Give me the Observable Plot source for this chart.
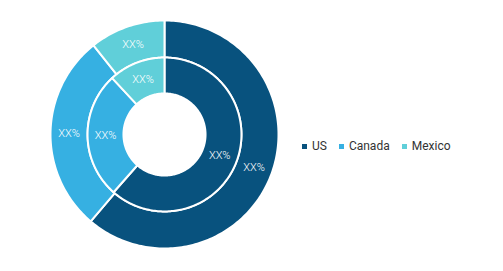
<!DOCTYPE html>
<html>
<head>
<meta charset="utf-8">
<script src="https://cdn.jsdelivr.net/npm/d3@7"></script>
<script src="https://cdn.jsdelivr.net/npm/@observablehq/plot@0.6"></script>
<style>
  html, body { margin: 0; padding: 0; background: #fff; }
  #wrap { position: relative; width: 503px; height: 271px; overflow: hidden; }
  #legend { position: absolute; left: 302px; top: 139px; display: flex; gap: 12px;
            font-family: Roboto, "Liberation Sans", sans-serif; font-size: 12px; color: #333; }
  #legend .it { display: flex; align-items: center; gap: 5px; }
  #legend .sw { width: 5px; height: 5px; display: inline-block; }
</style>
</head>
<body>
<div id="wrap"></div>
<script>
const countries = ["US", "Canada", "Mexico"];
const colors = ["#08527e", "#36b0e2", "#60cfd9"];
const outerShare = [61.2, 28.1, 10.7];
const innerShare = [61.5, 26.6, 11.9];
const outerLabels = ["XX%", "XX%", "XX%"];
const innerLabels = ["XX%", "XX%", "XX%"];

// ring radii relative to outer radius
const rings = [
  {name: "outer", r0: 0.675, r1: 1.0, shares: outerShare, labels: outerLabels},
  {name: "inner", r0: 0.36, r1: 0.675, shares: innerShare, labels: innerLabels}
];

const polys = [];
const texts = [];
for (const ring of rings) {
  const total = d3.sum(ring.shares);
  let acc = 0;
  ring.shares.forEach((v, i) => {
    const a0 = acc / total * 2 * Math.PI;
    acc += v;
    const a1 = acc / total * 2 * Math.PI;
    const id = ring.name + i;
    const n = Math.max(8, Math.ceil((a1 - a0) / 0.02));
    const pts = [];
    for (let k = 0; k <= n; k++) {
      const a = a0 + (a1 - a0) * k / n;
      pts.push([ring.r1 * Math.sin(a), ring.r1 * Math.cos(a)]);
    }
    for (let k = n; k >= 0; k--) {
      const a = a0 + (a1 - a0) * k / n;
      pts.push([ring.r0 * Math.sin(a), ring.r0 * Math.cos(a)]);
    }
    pts.push(pts[0]);
    for (const [x, y] of pts) polys.push({id, country: countries[i], x, y});
    const am = (a0 + a1) / 2, rm = (ring.r0 + ring.r1) / 2;
    texts.push({x: rm * Math.sin(am), y: rm * Math.cos(am), label: ring.labels[i]});
  });
}

const W = 503, H = 271, cx = 164, cy = 134, R = 114;
const chart = Plot.plot({
  width: W, height: H,
  margin: 0,
  x: {domain: [-cx / R, (W - cx) / R], range: [0, W], axis: null},
  y: {domain: [-(H - cy) / R, cy / R], range: [H, 0], axis: null},
  color: {domain: countries, range: colors},
  marks: [
    Plot.line(polys, {x: "x", y: "y", z: "id", fill: "country", stroke: "white", strokeWidth: 2, curve: "linear"}),
    Plot.text(texts, {x: "x", y: "y", text: "label", fill: "white", fontSize: 11, fontWeight: 300,
      fontFamily: "Roboto, 'Liberation Sans', sans-serif"})
  ]
});
document.getElementById("wrap").appendChild(chart);

const legend = document.createElement("div");
legend.id = "legend";
countries.forEach((c, i) => {
  const it = document.createElement("span");
  it.className = "it";
  const sw = document.createElement("span");
  sw.className = "sw";
  sw.style.background = colors[i];
  it.appendChild(sw);
  it.appendChild(document.createTextNode(c));
  legend.appendChild(it);
});
document.getElementById("wrap").appendChild(legend);
</script>
</body>
</html>
